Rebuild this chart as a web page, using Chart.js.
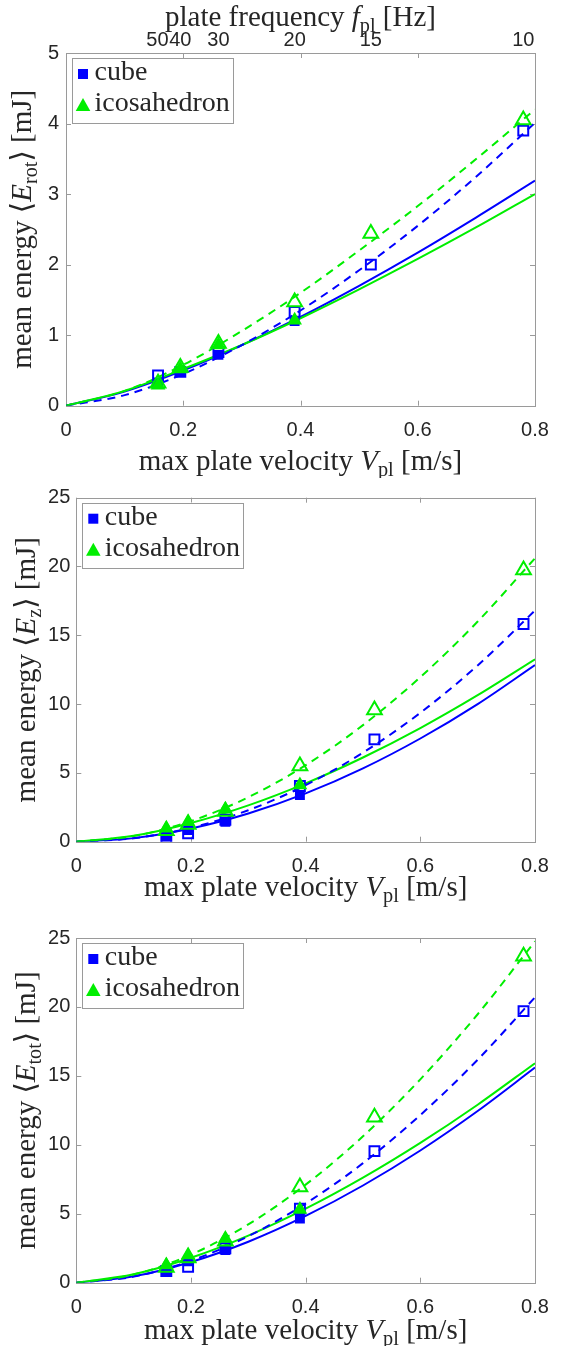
<!DOCTYPE html>
<html>
<head>
<meta charset="utf-8">
<script src="https://cdn.jsdelivr.net/npm/chart.js@4.4.1/dist/chart.umd.min.js"></script>
<style>
  body { margin: 0; background: #fff; width: 568px; height: 1346px; overflow: hidden; position: relative; }
  canvas { position: absolute; left: 0; }
</style>
</head>
<body>
<canvas id="c1" width="568" height="478" style="top:0px"></canvas>
<canvas id="c2" width="568" height="442" style="top:478px"></canvas>
<canvas id="c3" width="568" height="426" style="top:920px"></canvas>
<script>
// x values of the fitted curves and of the measured points
const vFit = [0, 0.1, 0.2, 0.3, 0.4, 0.5, 0.6, 0.7, 0.8];
const vMarks = [0.157, 0.195, 0.26, 0.39, 0.52, 0.78];

// top axis: plate frequency labels and where they sit on the velocity axis
const freqLabels = ['50', '40', '30', '20', '15', '10'];
const freqTickV = [0.156, 0.195, 0.26, 0.39, 0.52, 0.78];

const legendLabels = ['cube', 'icosahedron'];
const ySubs = ['rot', 'z', 'tot'];

// panel 1 : <E_rot>
const rotCubeSolid = [0, 0.20, 0.50, 0.86, 1.26, 1.70, 2.17, 2.67, 3.19];
const rotIcoSolid  = [0, 0.21, 0.52, 0.86, 1.24, 1.65, 2.08, 2.53, 3.00];
const rotCubeDash  = [0, 0.15, 0.45, 0.86, 1.35, 1.92, 2.55, 3.25, 4.01];
const rotIcoDash   = [0, 0.21, 0.58, 1.06, 1.60, 2.20, 2.83, 3.50, 4.20];
const rotCubeFilled = [0.33, 0.48, 0.72, 1.20, null, null];
const rotCubeOpen   = [0.43, 0.48, 0.76, 1.33, 2.00, 3.90];
const rotIcoFilled  = [0.29, 0.52, 0.86, 1.21, null, null];
const rotIcoOpen    = [0.32, 0.54, 0.88, 1.47, 2.44, 4.05];

// panel 2 : <E_z>
const zCubeSolid = [0, 0.26, 0.96, 2.05, 3.51, 5.33, 7.50, 10.0, 12.84];
const zIcoSolid  = [0, 0.43, 1.36, 2.64, 4.24, 6.12, 8.26, 10.65, 13.26];
const zCubeDash  = [0, 0.25, 1.01, 2.29, 4.11, 6.47, 9.37, 12.81, 16.8];
const zIcoDash   = [0, 0.41, 1.50, 3.23, 5.56, 8.47, 11.96, 16.0, 20.6];
const zCubeFilled = [0.35, 0.85, 1.45, 3.39, null, null];
const zCubeOpen   = [0.25, 0.61, 1.60, 4.05, 7.44, 15.82];
const zIcoFilled  = [0.97, 1.45, 2.35, 4.12, null, null];
const zIcoOpen    = [0.80, 1.25, 2.20, 5.50, 9.57, 19.74];

// panel 3 : <E_tot>
const totCubeSolid = [0, 0.46, 1.50, 2.97, 4.84, 7.05, 9.59, 12.45, 15.6];
const totIcoSolid  = [0, 0.61, 1.81, 3.42, 5.37, 7.62, 10.14, 12.91, 15.92];
const totCubeDash  = [0, 0.44, 1.59, 3.37, 5.74, 8.67, 12.16, 16.17, 20.7];
const totIcoDash   = [0, 0.59, 2.04, 4.23, 7.11, 10.62, 14.75, 19.47, 24.76];
const totCubeFilled = [0.92, 1.55, 2.36, 4.65, null, null];
const totCubeOpen   = [0.85, 1.16, 2.50, 5.37, 9.54, 19.70];
const totIcoFilled  = [1.28, 2.00, 3.20, 5.30, null, null];
const totIcoOpen    = [1.10, 1.80, 3.00, 6.94, 12.00, 23.68];

const BLUE = '#0000ff';
const GREEN = '#00ee00';
const AXIS = '#9a9a9a';
const TEXT = '#262626';
const SERIF = "'Liberation Serif', 'DejaVu Serif', serif";
const SANS = "'Liberation Sans', Arial, sans-serif";
const TITLE_SIZE = 29;
const LEGEND_SIZE = 28;

function curve(vals, color, dashed) {
  return {
    data: vFit.map((v, i) => ({ x: v, y: vals[i] })),
    showLine: true,
    borderColor: color,
    borderWidth: 2,
    borderDash: dashed ? [8, 6] : [],
    pointRadius: 0,
    cubicInterpolationMode: 'monotone',
    order: 5
  };
}

function marks(vals, color, style, filled) {
  return {
    data: vMarks.map((v, i) => ({ x: v, y: vals[i] })).filter(d => d.y !== null),
    showLine: false,
    pointStyle: style,
    pointRadius: style === 'rect' ? 7 : 8.5,
    pointBackgroundColor: filled ? color : 'rgba(0,0,0,0)',
    pointBorderColor: color,
    pointBorderWidth: filled ? 0 : 2,
    order: style === 'rect' ? 2 : 1
  };
}

// draws text made of pieces: n = normal, i = italic, s = subscript
function drawRich(ctx, parts, cx, cy, size) {
  const fontOf = k => (k === 'i' ? 'italic ' : '') + (k === 's' ? size * 0.7 : size) + 'px ' + SERIF;
  let total = 0;
  parts.forEach(p => { ctx.font = fontOf(p[1]); total += ctx.measureText(p[0]).width; });
  let x = cx - total / 2;
  const base = cy + size * 0.3;
  ctx.textAlign = 'left';
  ctx.textBaseline = 'alphabetic';
  parts.forEach(p => {
    ctx.font = fontOf(p[1]);
    ctx.fillText(p[0], x, p[1] === 's' ? base + size * 0.22 : base);
    x += ctx.measureText(p[0]).width;
  });
}

const boxPlugin = {
  id: 'box',
  beforeDatasetsDraw(chart, args, o) {
    const { ctx, chartArea: a, scales } = chart;
    ctx.save();
    ctx.strokeStyle = AXIS;
    ctx.lineWidth = 1;
    ctx.strokeRect(Math.round(a.left) + 0.5, Math.round(a.top) + 0.5,
      Math.round(a.right - a.left), Math.round(a.bottom - a.top));
    ctx.beginPath();
    scales.x.ticks.forEach(t => {
      const px = Math.round(scales.x.getPixelForValue(t.value)) + 0.5;
      ctx.moveTo(px, a.bottom); ctx.lineTo(px, a.bottom - 5);
      ctx.moveTo(px, a.top); ctx.lineTo(px, a.top + 5);
    });
    scales.y.ticks.forEach(t => {
      const py = Math.round(scales.y.getPixelForValue(t.value)) + 0.5;
      ctx.moveTo(a.left, py); ctx.lineTo(a.left + 5, py);
      ctx.moveTo(a.right, py); ctx.lineTo(a.right - 5, py);
    });
    ctx.stroke();
    ctx.restore();
  },
  afterDraw(chart, args, o) {
    const { ctx, chartArea: a } = chart;
    ctx.save();
    ctx.fillStyle = TEXT;
    const mid = (a.left + a.right) / 2;
    drawRich(ctx, [['max plate velocity ', 'n'], ['V', 'i'], ['pl', 's'], [' [m/s]', 'n']], mid, o.xTitleY, TITLE_SIZE);
    if (o.topTitle) {
      drawRich(ctx, [['plate frequency ', 'n'], ['f', 'i'], ['pl', 's'], [' [Hz]', 'n']], mid, o.topTitleY, TITLE_SIZE);
    }
    ctx.save();
    ctx.translate(o.yTitleX, (a.top + a.bottom) / 2);
    ctx.rotate(-Math.PI / 2);
    drawRich(ctx, [['mean energy ', 'n'], ['\u27E8', 'n'], ['E', 'i'], [o.ySub, 's'], ['\u27E9', 'n'], [' [mJ]', 'n']], 0, 0, TITLE_SIZE);
    ctx.restore();

    // legend box
    const lx = a.left + 5.5, ly = a.top + 5;
    ctx.fillStyle = '#fff';
    ctx.fillRect(lx, ly, 161, 65);
    ctx.strokeStyle = AXIS;
    ctx.lineWidth = 1;
    ctx.strokeRect(Math.round(lx) + 0.5, Math.round(ly) + 0.5, 161, 65);
    ctx.fillStyle = BLUE;
    ctx.fillRect(lx + 6.5, ly + 11, 10, 10);
    ctx.fillStyle = GREEN;
    ctx.beginPath();
    ctx.moveTo(lx + 11.5, ly + 40);
    ctx.lineTo(lx + 18.8, ly + 53);
    ctx.lineTo(lx + 4.2, ly + 53);
    ctx.closePath();
    ctx.fill();
    ctx.fillStyle = TEXT;
    ctx.font = LEGEND_SIZE + 'px ' + SERIF;
    ctx.textAlign = 'left';
    ctx.textBaseline = 'middle';
    ctx.fillText(legendLabels[0], lx + 23, ly + 15);
    ctx.fillText(legendLabels[1], lx + 23, ly + 46);
    ctx.restore();
  }
};

function makePanel(id, p) {
  const tickFont = { family: SANS, size: 20 };
  const noGrid = { display: false, drawTicks: false };
  const scales = {
    x: {
      type: 'linear', position: 'bottom', min: 0, max: 0.8,
      grid: noGrid, border: { display: false },
      ticks: { stepSize: 0.2, padding: 13, color: TEXT, font: tickFont, maxRotation: 0,
        callback: v => +v.toFixed(1) },
      afterFit: s => { s.height = p.bottomH; }
    },
    y: {
      type: 'linear', min: 0, max: p.yMax,
      grid: noGrid, border: { display: false },
      ticks: { stepSize: p.yStep, padding: p.yPad, color: TEXT, font: tickFont },
      afterFit: s => { s.width = p.left; }
    }
  };
  if (p.topAxis) {
    scales.xTop = {
      type: 'linear', position: 'top', min: 0, max: 0.8,
      grid: noGrid, border: { display: false },
      afterBuildTicks: s => { s.ticks = freqTickV.map(v => ({ value: v })); },
      ticks: { autoSkip: false, maxRotation: 0, padding: 1, color: TEXT, font: tickFont,
        callback: (v, i) => freqLabels[i] },
      afterFit: s => { s.height = p.top; }
    };
  }
  return new Chart(document.getElementById(id), {
    type: 'scatter',
    data: {
      datasets: [
        marks(p.icoOpen, GREEN, 'triangle', false),
        marks(p.icoFilled, GREEN, 'triangle', true),
        marks(p.cubeOpen, BLUE, 'rect', false),
        marks(p.cubeFilled, BLUE, 'rect', true),
        curve(p.icoDash, GREEN, true),
        curve(p.cubeDash, BLUE, true),
        curve(p.icoSolid, GREEN, false),
        curve(p.cubeSolid, BLUE, false)
      ]
    },
    options: {
      responsive: false,
      animation: false,
      layout: { padding: { top: p.topAxis ? 0 : p.top, right: 33, left: 0, bottom: 0 } },
      plugins: {
        legend: { display: false },
        tooltip: { enabled: false },
        box: { xTitleY: p.xTitleY, yTitleX: p.yTitleX, ySub: p.ySub,
          topTitle: p.topAxis, topTitleY: 17 }
      },
      scales: scales
    },
    plugins: [boxPlugin]
  });
}

makePanel('c1', {
  topAxis: true, top: 53, bottomH: 478 - 405.7, left: 66, yPad: 7, yMax: 5, yStep: 1,
  xTitleY: 461, yTitleX: 22, ySub: ySubs[0],
  cubeSolid: rotCubeSolid, icoSolid: rotIcoSolid, cubeDash: rotCubeDash, icoDash: rotIcoDash,
  cubeFilled: rotCubeFilled, cubeOpen: rotCubeOpen, icoFilled: rotIcoFilled, icoOpen: rotIcoOpen
});

makePanel('c2', {
  topAxis: false, top: 19.7, bottomH: 442 - 363.7, left: 76.3, yPad: 6, yMax: 25, yStep: 5,
  xTitleY: 409, yTitleX: 26, ySub: ySubs[1],
  cubeSolid: zCubeSolid, icoSolid: zIcoSolid, cubeDash: zCubeDash, icoDash: zIcoDash,
  cubeFilled: zCubeFilled, cubeOpen: zCubeOpen, icoFilled: zIcoFilled, icoOpen: zIcoOpen
});

makePanel('c3', {
  topAxis: false, top: 16.7, bottomH: 426 - 362.7, left: 76.3, yPad: 6, yMax: 25, yStep: 5,
  xTitleY: 410, yTitleX: 26, ySub: ySubs[2],
  cubeSolid: totCubeSolid, icoSolid: totIcoSolid, cubeDash: totCubeDash, icoDash: totIcoDash,
  cubeFilled: totCubeFilled, cubeOpen: totCubeOpen, icoFilled: totIcoFilled, icoOpen: totIcoOpen
});
</script>
</body>
</html>
